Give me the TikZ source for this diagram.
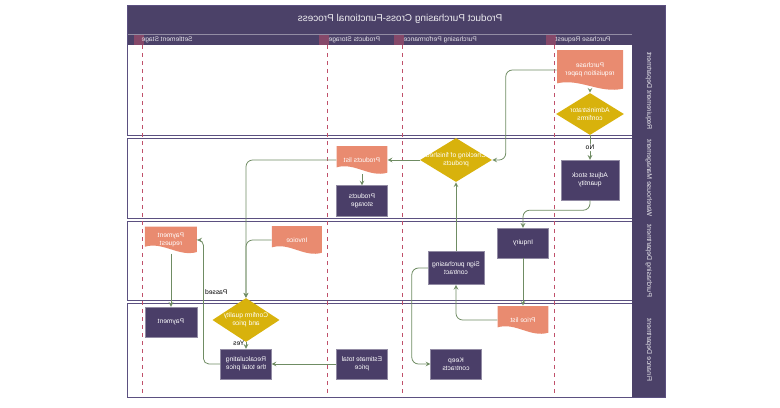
\documentclass[tikz,border=0pt]{standalone}
\usepackage{fontspec}
\setmainfont{Liberation Sans}
\usetikzlibrary{shapes.geometric, arrows, calc}
\definecolor{headpurple}{HTML}{4B4168}
\definecolor{boxpurple}{HTML}{4A3E68}
\definecolor{docsalmon}{HTML}{E98B70}
\definecolor{decmustard}{HTML}{D8B20C}
\definecolor{linkgreen}{HTML}{6F8C63}
\definecolor{phasered}{HTML}{C0506A}
\definecolor{lanepurple}{HTML}{5B5080}
\newcommand\nodefont{\fontsize{5}{6}\selectfont}
\newcommand\ppbb{path picture bounding box}
\tikzstyle{arrow} = [line width=0.6pt, draw=linkgreen, ->, >=stealth, rounded corners=5pt]
\tikzstyle{process} = [rectangle, fill=boxpurple, draw=boxpurple!60!white, line width=0.3pt, minimum width=38pt, minimum height=22.5pt, inner sep=1pt, align=center, text=white, font=\nodefont]
\tikzstyle{decision} = [diamond, aspect=1.6, fill=decmustard, minimum width=50pt, minimum height=33pt, inner sep=0pt, align=center, text=white, font=\nodefont]
\tikzstyle{linklabel} = [font=\nodefont, text=black, inner sep=1pt]
\tikzset{
	docbox/.style = {rectangle, minimum width=38pt, minimum height=21pt, inner sep=1pt,
		align=center, text=white, font=\nodefont,
		path picture={\fill[docsalmon] (\ppbb.north west) -- (\ppbb.north east)
			-- ([yshift=1pt]\ppbb.south east)
			.. controls ([yshift=-3pt]$(\ppbb.south west)!0.65!(\ppbb.south east)$)
			and ([yshift=9pt]$(\ppbb.south west)!0.35!(\ppbb.south east)$)
			.. ([yshift=5pt]\ppbb.south west) -- cycle;
		},% end of path picture
	},
	phaselabel/.style = {anchor=east, inner sep=1pt, text=white!85!headpurple, font=\fontsize{5}{6}\selectfont},
	lanelabel/.style = {rotate=90, text=white!90!headpurple, font=\fontsize{5.2}{6}\selectfont},
	lanesep/.style = {lanepurple, double=white, double distance=1.2pt, line width=0.55pt},
}

\begin{document}
\begin{tikzpicture}[x=0.75pt, y=-0.75pt, xscale=-1, every node/.append style={transform shape}]
\useasboundingbox (0,0) rectangle (780,407);

% Frame, title bar and lanes
\fill[headpurple] (115,5) rectangle (653,45);
\fill[headpurple] (115,45) rectangle (148,397);
\draw[white!40!headpurple, line width=0.4pt] (148,34) -- (653,34);
\draw[lanepurple, line width=0.6pt] (115,5) rectangle (653,397);
\draw[lanesep] (148,137) -- (653,137);
\draw[lanesep] (148,220) -- (653,220);
\draw[lanesep] (148,302) -- (653,302);

% Phase separators
\draw[phasered, dashed, line width=0.5pt] (226,45) -- (226,397);
\draw[phasered, dashed, line width=0.5pt] (378,45) -- (378,397);
\draw[phasered, dashed, line width=0.5pt] (453,45) -- (453,397);
\draw[phasered, dashed, line width=0.5pt] (638,45) -- (638,397);
\fill[phasered, opacity=0.5] (224,35) rectangle (234,45);
\fill[phasered, opacity=0.5] (376,35) rectangle (386,45);
\fill[phasered, opacity=0.5] (451,35) rectangle (461,45);
\fill[phasered, opacity=0.5] (636,35) rectangle (646,45);

\node (title) [text=white!90!headpurple, font=\fontsize{7.5}{9}\selectfont] at (380,19) {Product Purchasing Cross-Functional Process};
\node (hdrRequest) [phaselabel] at (226,40) {Purchase Request};
\node (hdrPerform) [phaselabel] at (378,40) {Purchasing Performance};
\node (hdrStorage) [phaselabel] at (453,40) {Products Storage};
\node (hdrSettle) [phaselabel] at (640,40) {Settlement Stage};

\node (laneReq) [lanelabel] at (131,91) {Requirement Department};
\node (laneWare) [lanelabel] at (131,178) {Warehouse Management};
\node (lanePurch) [lanelabel] at (131,261) {Purchasing Department};
\node (laneFin) [lanelabel] at (131,350) {Finance Department};

% Placement of flowchart nodes
\node (reqPaper) [docbox, minimum width=49.5pt, minimum height=30pt] at (190,70) {Purchase\\requisition paper};
\node (admin) [decision, minimum width=51pt, minimum height=31.5pt] at (190,114) {Administrator\\confirms};
\node (adjust) [process, minimum width=43.5pt, minimum height=30pt] at (190,180) {Adjust stock\\quantity};
\node (check) [decision, minimum width=54pt] at (324,160) {\makebox[0pt]{Checking of finished}\\products};
\node (prodList) [docbox] at (418,160) {Products list};
\node (prodStore) [process, minimum height=23pt] at (418,201) {Products\\storage};
\node (inquiry) [process] at (257,243) {Inquiry};
\node (priceList) [docbox] at (257,320) {Price list};
\node (sign) [process, minimum width=42pt, minimum height=25pt] at (324,268) {Sign purchasing\\contract};
\node (keep) [process] at (324,364) {Keep\\contracts};
\node (estimate) [process] at (418,364) {Estimate total\\price};
\node (recalc) [process] at (534,364) {Recalculating\\the total price};
\node (confirm) [decision] at (534,320) {Confirm quality\\and price};
\node (invoice) [docbox, minimum width=37.5pt] at (483,240) {Invoice};
\node (payReq) [docbox, minimum width=39pt, minimum height=20pt] at (609,240) {Payment\\request};
\node (payment) [process, minimum width=39pt] at (609,322) {Payment};

% Drawing of connectors
\draw [arrow] (reqPaper) -- (admin);
\draw [arrow] (admin) -- node[linklabel, fill=white] {No} (adjust);
\draw [arrow] (reqPaper.east) -- ++(51,0) |- (check.west);
\draw [arrow] (adjust.south) -- ++(0,10) -| (inquiry.north);
\draw [arrow] (inquiry) -- (priceList);
\draw [arrow] (priceList.east) -| (sign.south);
\draw [arrow] (sign) -- (check);
\draw [arrow] (sign.east) -- ++(16,0) |- (keep.east);
\draw [arrow] (check) -- (prodList);
\draw [arrow] (prodList) -- (prodStore);
\draw [arrow] (prodList.east) -| (confirm.north);
\draw [arrow] (invoice.east) -| (confirm.north);
\draw [arrow] (estimate) -- (recalc);
\draw [arrow] (confirm) -- node[linklabel, pos=0, anchor=west, yshift=-1pt] {Yes} (recalc);
\draw [arrow, rounded corners=4pt] (recalc.east) -- ++(17,0) |- node[linklabel, pos=0.29, anchor=east] {Passed} (payReq.west);
\draw [arrow] (payReq) -- (payment);

\end{tikzpicture}
\end{document}
